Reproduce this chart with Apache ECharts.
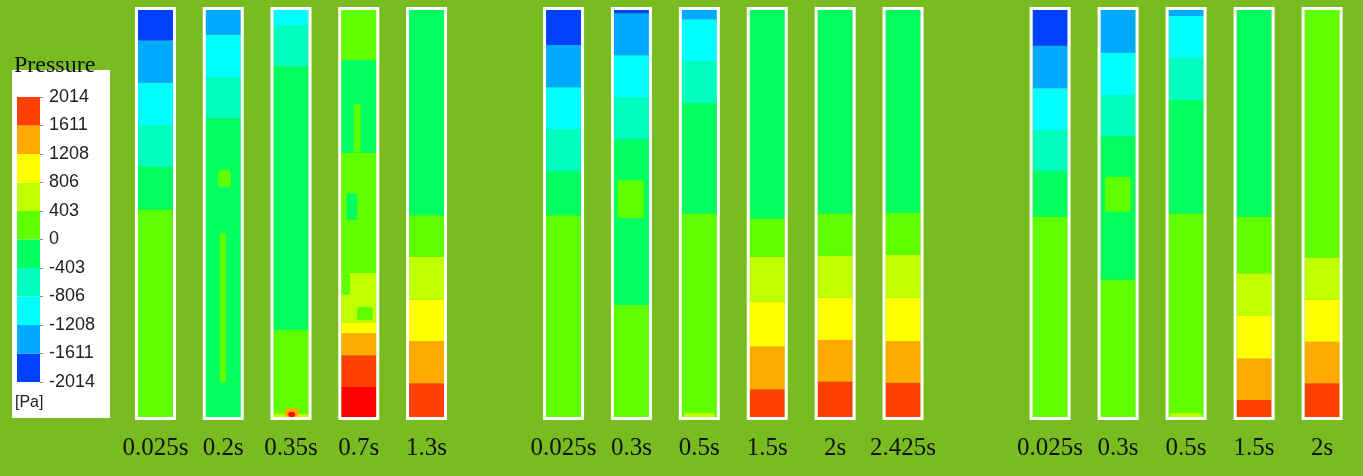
<!DOCTYPE html>
<html>
<head>
<meta charset="utf-8">
<script src="https://cdn.jsdelivr.net/npm/echarts@6/dist/echarts.min.js"></script>
<style>
  html, body { margin: 0; padding: 0; background: #79bc21; }
  #chart { width: 1363px; height: 476px; }
</style>
</head>
<body>
<div id="chart"></div>
<script>
// Contour levels of gauge pressure [Pa], lowest to highest (index 10 = above range)
const levelColors = ['#0040ff', '#00aaff', '#00ffff', '#00ffbf', '#00ff5f',
                     '#5fff00', '#bfff00', '#ffff00', '#ffaa00', '#ff4000', '#ff0000'];
const legendTicks = ['-2014', '-1611', '-1208', '-806', '-403', '0',
                     '403', '806', '1208', '1611', '2014'];

// Snapshot times for the three cases
const timesA = ['0.025s', '0.2s', '0.35s', '0.7s', '1.3s'];
const timesB = ['0.025s', '0.3s', '0.5s', '1.5s', '2s', '2.425s'];
const timesC = ['0.025s', '0.3s', '0.5s', '1.5s', '2s'];

// Pressure bands per column, from the bottom: [level, upper edge in % of column height]
const bandsA = [
  [[5, 50.9], [4, 61.5], [3, 71.7], [2, 82.1], [1, 92.5], [0, 100]],
  [[4, 73.4], [3, 83.5], [2, 93.9], [1, 100]],
  [[5, 21.4], [4, 86.1], [3, 96.3], [2, 100]],
  [[10, 7.4], [9, 15.2], [8, 20.6], [7, 23.3], [6, 35.4], [5, 64.9], [4, 87.7], [5, 100]],
  [[9, 8.3], [8, 18.7], [7, 28.9], [6, 39.4], [5, 49.6], [4, 100]]
];
const bandsB = [
  [[5, 49.6], [4, 60.3], [3, 70.7], [2, 81.0], [1, 91.4], [0, 100]],
  [[5, 27.5], [4, 68.2], [3, 78.5], [2, 88.9], [1, 99.2], [0, 100]],
  [[5, 50.0], [4, 77.1], [3, 87.3], [2, 97.7], [1, 100]],
  [[9, 6.8], [8, 17.3], [7, 28.3], [6, 39.4], [5, 48.8], [4, 100]],
  [[9, 8.7], [8, 18.9], [7, 29.3], [6, 39.6], [5, 50.0], [4, 100]],
  [[9, 8.4], [8, 18.7], [7, 29.3], [6, 39.8], [5, 50.2], [4, 100]]
];
const bandsC = [
  [[5, 49.2], [4, 60.3], [3, 70.5], [2, 80.8], [1, 91.2], [0, 100]],
  [[5, 33.7], [4, 68.9], [3, 79.1], [2, 89.5], [1, 100]],
  [[5, 50.0], [4, 77.9], [3, 88.1], [2, 98.5], [1, 100]],
  [[9, 4.2], [8, 14.4], [7, 24.8], [6, 35.3], [5, 49.2], [4, 100]],
  [[9, 8.3], [8, 18.5], [7, 28.9], [6, 39.2], [5, 100]]
];

// Local pockets inside the bands: [column, level, bottom %, top %, left frac, right frac]
const pocketsA = [
  [1, 5, 8.4, 45.2, 0.40, 0.58],
  [1, 5, 56.5, 60.7, 0.35, 0.72],
  [2, 6, 0.0, 0.8, 0.0, 1.0],
  [2, 8, 0.0, 2.2, 0.33, 0.72],
  [2, 10, 0.0, 1.2, 0.42, 0.62],
  [3, 5, 64.9, 77.1, 0.36, 0.55],
  [3, 4, 48.4, 55.0, 0.15, 0.45],
  [3, 5, 30.0, 35.4, 0.0, 0.25],
  [3, 5, 23.8, 27.0, 0.45, 0.90]
];
const pocketsB = [
  [1, 5, 48.9, 58.2, 0.10, 0.85],
  [2, 6, 0.0, 0.9, 0.05, 0.95]
];
const pocketsC = [
  [1, 5, 50.4, 59.0, 0.12, 0.87],
  [2, 6, 0.0, 0.9, 0.05, 0.95]
];

const COL_W = 35;   // inner width of each column, px

function buildCells(bands, pockets) {
  const cells = [];
  bands.forEach((col, i) => {
    let bottom = 0;
    col.forEach(([level, top]) => {
      cells.push([i, level, bottom, top, 0, 1]);
      bottom = top;
    });
  });
  pockets.forEach(p => cells.push(p.slice()));
  return cells;
}

function renderCell(params, api) {
  const c = api.value(0);
  const pb = api.coord([c, api.value(2)]);
  const pt = api.coord([c, api.value(3)]);
  const left = pb[0] - COL_W / 2;
  const x0 = left + COL_W * api.value(4);
  const x1 = left + COL_W * api.value(5);
  const isPocket = api.value(4) > 0 || api.value(5) < 1;
  return {
    type: 'rect',
    shape: { x: x0, y: pt[1], width: x1 - x0, height: pb[1] - pt[1], r: isPocket ? 3 : 0 },
    style: { fill: levelColors[api.value(1)] }
  };
}

function renderFrame(params, api) {
  const c = api.value(0);
  const pb = api.coord([c, 0]);
  const pt = api.coord([c, 100]);
  return {
    type: 'rect',
    shape: { x: pb[0] - COL_W / 2 - 1.5, y: pt[1] - 1.5, width: COL_W + 3, height: pb[1] - pt[1] + 3 },
    style: { fill: null, stroke: '#ffffff', lineWidth: 3 }
  };
}

const groups = [
  { times: timesA, bands: bandsA, pockets: pocketsA, left: 121.6, width: 338.8 },
  { times: timesB, bands: bandsB, pockets: pocketsB, left: 529.6, width: 407.4 },
  { times: timesC, bands: bandsC, pockets: pocketsC, left: 1016.1, width: 340.0 }
];

const grid = [], xAxis = [], yAxis = [], series = [];
groups.forEach((g, gi) => {
  grid.push({ left: g.left, width: g.width, top: 10, height: 407 });
  xAxis.push({
    type: 'category', gridIndex: gi, data: g.times,
    axisLine: { show: false }, axisTick: { show: false },
    axisLabel: { interval: 0, margin: 19, fontFamily: 'Liberation Serif', fontSize: 25, color: '#111111' }
  });
  yAxis.push({
    type: 'value', gridIndex: gi, min: 0, max: 100,
    axisLine: { show: false }, axisTick: { show: false },
    axisLabel: { show: false }, splitLine: { show: false }
  });
  series.push({
    type: 'custom', xAxisIndex: gi, yAxisIndex: gi,
    data: buildCells(g.bands, g.pockets),
    encode: { x: 0, y: [2, 3] },
    renderItem: renderCell, silent: true, z: 2
  });
  series.push({
    type: 'custom', xAxisIndex: gi, yAxisIndex: gi,
    data: g.times.map((t, i) => [i]),
    encode: { x: 0 },
    renderItem: renderFrame, silent: true, z: 3
  });
});

// Colour legend bar
const legendIdx = groups.length;
grid.push({ left: 17, width: 23, top: 97, height: 285 });
xAxis.push({
  type: 'category', gridIndex: legendIdx, data: ['p'],
  show: false
});
yAxis.push({
  type: 'value', gridIndex: legendIdx, min: 0, max: 10, interval: 1, position: 'right',
  axisLine: { show: false },
  axisTick: { show: true, length: 3, lineStyle: { color: '#888888' } },
  splitLine: { show: false },
  axisLabel: {
    margin: 9, fontFamily: 'Liberation Sans', fontSize: 18, color: '#222222',
    formatter: v => legendTicks[v]
  }
});
series.push({
  type: 'custom', xAxisIndex: legendIdx, yAxisIndex: legendIdx,
  data: levelColors.slice(0, 10).map((c, i) => [0, i]),
  encode: { x: 0, y: 1 },
  renderItem: (params, api) => {
    const lv = api.value(1);
    const pb = api.coord([0, lv]);
    const pt = api.coord([0, lv + 1]);
    return {
      type: 'rect',
      shape: { x: 17, y: pt[1], width: 23, height: pb[1] - pt[1] },
      style: { fill: levelColors[lv] }
    };
  },
  silent: true, z: 5
});

const chart = echarts.init(document.getElementById('chart'), null, { renderer: 'canvas' });
chart.setOption({
  backgroundColor: '#79bc21',
  animation: false,
  grid, xAxis, yAxis, series,
  graphic: [
    { type: 'rect', z: 0, shape: { x: 12, y: 70, width: 98, height: 348 }, style: { fill: '#ffffff' } },
    { type: 'text', z: 10, x: 14, y: 66,
      style: { text: 'Pressure', font: '24px "Liberation Serif"', fill: '#111111', verticalAlign: 'middle' } },
    { type: 'text', z: 10, x: 15, y: 403,
      style: { text: '[Pa]', font: '16px "Liberation Sans"', fill: '#222222', verticalAlign: 'middle' } }
  ]
});
</script>
</body>
</html>
